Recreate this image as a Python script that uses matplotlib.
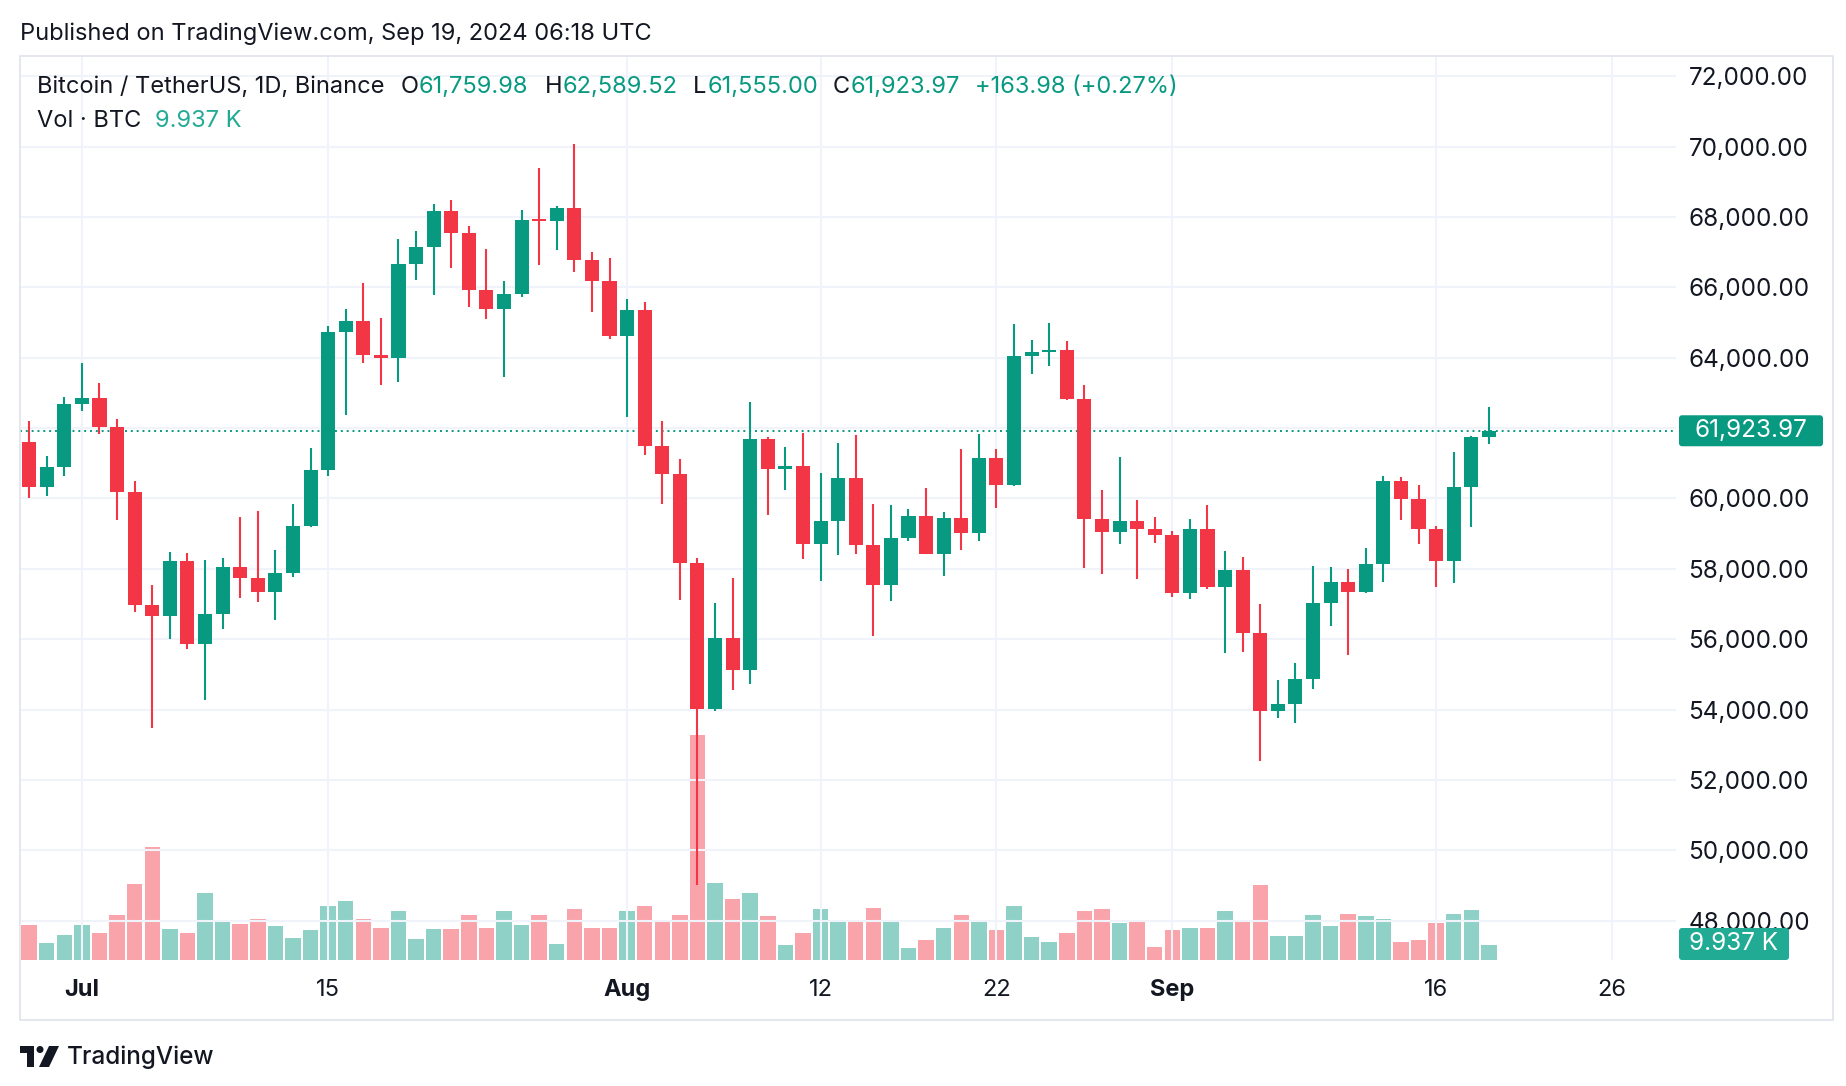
import numpy as np
import pandas as pd
import matplotlib
matplotlib.use("Agg")
import matplotlib.pyplot as plt
import matplotlib.dates as mdates
from matplotlib.patches import Rectangle, Circle, Polygon, FancyBboxPatch

# BTCUSDT daily candles, Binance, 28 Jun - 19 Sep 2024
dates = pd.date_range("2024-06-28", "2024-09-19", freq="D")
opens = [61612.0, 60320.0, 60887.1,
         62678.0, 62852.0, 62029.2, 60173.9, 56977.7, 56662.4, 58232.0, 55857.8, 56714.6, 58050.0,
         57725.9, 57339.9, 57889.1, 59204.0, 60797.9, 64724.1, 65044.0, 64088.0, 63987.9, 66660.0,
         67140.0, 68165.3, 67532.0, 65936.0, 65376.0, 65800.0, 67908.0, 67896.5, 68249.9, 66784.7, 66188.0,
         64628.0, 65354.0, 61498.3, 60698.0, 58161.0, 54018.8, 56022.0, 55133.8, 61686.0, 60838.0,
         60923.5, 58712.6, 59346.6, 60587.2, 58683.4, 57541.1, 58874.6, 59492.0, 58427.4, 59438.5,
         59013.8, 61156.0, 60375.8, 64037.2, 64157.0, 64220.0, 62834.0, 59415.0, 59034.9, 59359.0, 59124.0,
         58974.0, 57301.8, 59132.1, 57487.7, 57970.9, 56180.0, 53963.0, 54160.9, 54870.0, 57042.0,
         57636.0, 57338.0, 58132.3, 60498.0, 59993.0, 59132.0, 58214.0, 60314.0, 61759.98]
highs = [62190, 61197, 62892,
         63862, 63289, 62272, 60498, 57546, 58475, 58450, 58237, 58296, 59470,
         59650, 58527, 59850, 61421, 64900, 65389, 66129, 65133, 67386, 67598,
         68367, 68475, 67751, 67102, 66175, 68200, 69400, 68318, 70080, 67000, 66849,
         65660, 65596, 62198, 61118, 58306, 57041, 57736, 62745, 61744, 61471,
         61858, 60711, 61578, 61800, 59849, 59818, 59700, 60285, 59618, 61400,
         61821, 61400, 64955, 64494, 65000, 64481, 63212, 60235, 61167, 59944, 59462,
         59077, 59426, 59810, 58519, 58327, 56995, 54850, 55318, 58088, 58044,
         57982, 58588, 60625, 60610, 60396, 59211, 61320, 61786, 62589.52]
lows = [60000, 60068, 60632,
        62497, 61820, 59386, 56771, 53486, 56018, 55724, 54260, 56289, 57158,
        57050, 56542, 57757, 59194, 60632, 62373, 63854, 63238, 63301, 66222,
        65777, 66560, 65441, 65111, 63457, 65723, 66650, 67067, 66428, 65303, 64530,
        62302, 61230, 59850, 57123, 49000, 53963, 54559, 54730, 59535, 60242,
        58287, 57642, 58393, 58433, 56079, 57099, 58785, 58409, 57787, 58548,
        58783, 59725, 60342, 63531, 63773, 62800, 58034, 57860, 58713, 57701, 58744,
        57201, 57128, 57415, 55606, 55644, 52550, 53746, 53629, 54592, 56386,
        55545, 57324, 57633, 59400, 58691, 57493, 57610, 59175, 61555]
closes = [60320.0, 60887.1, 62678.0,
          62852.0, 62029.2, 60173.9, 56977.7, 56662.4, 58232.0, 55857.8, 56714.6, 58050.0, 57725.9,
          57339.9, 57889.1, 59204.0, 60797.9, 64724.1, 65044.0, 64088.0, 63987.9, 66660.0, 67140.0,
          68165.3, 67532.0, 65936.0, 65376.0, 65800.0, 67908.0, 67896.5, 68249.9, 66784.7, 66188.0, 64628.0,
          65354.0, 61498.3, 60698.0, 58161.0, 54018.8, 56022.0, 55133.8, 61686.0, 60838.0, 60923.5,
          58712.6, 59346.6, 60587.2, 58683.4, 57541.1, 58874.6, 59492.0, 58427.4, 59438.5, 59013.8,
          61156.0, 60375.8, 64037.2, 64157.0, 64220.0, 62834.0, 59415.0, 59034.9, 59359.0, 59124.0, 58974.0,
          57301.8, 59132.1, 57487.7, 57970.9, 56180.0, 53963.0, 54160.9, 54870.0, 57042.0, 57636.0,
          57338.0, 58132.3, 60498.0, 59993.0, 59132.0, 58214.0, 60314.0, 61760.0, 61923.97]
# volume in thousand BTC
volumes = [23.5, 11.3, 16.7,
           23.5, 18.1, 30.9, 51.9, 77.0, 20.8, 18.1, 45.8, 26.2, 24.2,
           28.2, 22.8, 14.7, 20.1, 37.0, 40.4, 28.2, 21.5, 33.6, 14.0,
           20.8, 20.8, 30.3, 22.1, 33.6, 23.5, 30.3, 10.6, 35.0, 22.1, 21.5,
           33.6, 37.0, 26.9, 30.3, 153.1, 52.6, 41.8, 45.8, 29.6, 9.9,
           18.7, 35.0, 26.9, 26.9, 35.7, 26.2, 7.9, 13.3, 22.1, 30.3,
           26.9, 20.1, 36.4, 15.4, 12.0, 18.7, 33.6, 35.0, 25.5, 27.5, 8.6,
           20.1, 22.1, 22.1, 33.6, 26.9, 51.3, 16.0, 16.0, 30.9, 22.8,
           31.6, 29.6, 28.2, 12.0, 13.3, 25.5, 31.6, 34.3, 9.937]

change_text = "+163.98 (+0.27%)"
price_ticks = list(range(48000, 72001, 2000))
date_ticks = ["2024-07-01", "2024-07-15", "2024-08-01", "2024-08-12",
              "2024-08-22", "2024-09-01", "2024-09-16", "2024-09-26"]
date_labels = ["Jul", "15", "Aug", "12", "22", "Sep", "16", "26"]
month_labels = ["Jul", "Aug", "Sep"]

UP = "#089981"
DOWN = "#F23645"
TXT = "#131722"
GRID = "#F0F3FA"
VOLBOX = "#22AB94"
FONT = ["Inter", "DejaVu Sans"]

plt.rcParams["font.family"] = FONT

W, H = 1846, 1086
fig = plt.figure(figsize=(W / 100, H / 100), dpi=100)

# pane in pixels: left, top, right, bottom
pl, pt, pr, pb = 20, 56, 1676, 960
rect = [pl / W, 1 - pb / H, (pr - pl) / W, (pb - pt) / H]

x = mdates.date2num(dates)
x0 = mdates.date2num(pd.Timestamp("2024-07-01"))
o = np.array(opens); h = np.array(highs); l = np.array(lows); c = np.array(closes)
up = c >= o
cols = np.where(up, UP, DOWN)

# volume pane underneath
axv = fig.add_axes(rect, zorder=1)
axv.bar(x, volumes, width=0.88, color=cols, alpha=0.45, linewidth=0)
axv.set_ylim(0, 615)
axv.set_xlim(x0 - 3.52, x0 + 90.64)
axv.axis("off")

# price pane
ax = fig.add_axes(rect, zorder=2, sharex=axv)
ax.patch.set_alpha(0)
ax.set_ylim(46880, 72577)
for s in ax.spines.values():
    s.set_visible(False)

ax.vlines(x, l, h, color=cols, linewidth=1.5, zorder=3)
body = np.maximum(np.abs(c - o), 60)
ax.bar(x, body, bottom=np.minimum(o, c), width=0.8, color=cols, linewidth=0, zorder=4)

ax.axhline(closes[-1], color=UP, linestyle=(0, (1, 2)), linewidth=1.4, zorder=2)

# the label under the last-price tag is hidden, as on TradingView
ax.set_yticks(price_ticks)
ax.set_yticklabels(["" if abs(p - closes[-1]) < 700 else f"{p:,.2f}" for p in price_ticks])
ax.yaxis.tick_right()
ax.tick_params(axis="y", length=0, pad=9, labelsize=17.5, labelcolor=TXT)

ax.set_xticks(mdates.date2num(pd.to_datetime(date_ticks)))
ax.set_xticklabels(date_labels)
ax.tick_params(axis="x", length=0, pad=14, labelsize=17, labelcolor=TXT)
for t in ax.get_xticklabels():
    if t.get_text() in month_labels:
        t.set_fontweight("bold")

ax.grid(True, color=GRID, linewidth=1.5, zorder=0)
ax.set_axisbelow(True)

# overlay in pixel coordinates for texts and labels
ov = fig.add_axes([0, 0, 1, 1], zorder=10)
ov.set_xlim(0, W)
ov.set_ylim(H, 0)
ov.axis("off")
ov.patch.set_alpha(0)

ov.add_patch(Rectangle((20, 56), 1813, 964, fill=False, edgecolor="#E0E3EB", linewidth=1.2))

ov.text(20, 34, "Published on TradingView.com, Sep 19, 2024 06:18 UTC",
        fontsize=17, color=TXT, va="center", ha="left")

legend_items = [
    (37, "Bitcoin / TetherUS, 1D, Binance", TXT),
    (401, "O", TXT), (419, f"{opens[-1]:,.2f}", UP),
    (545, "H", TXT), (563, f"{highs[-1]:,.2f}", UP),
    (693, "L", TXT), (708, f"{lows[-1]:,.2f}", UP),
    (833, "C", TXT), (851, f"{closes[-1]:,.2f}", UP),
    (975, change_text, UP),
]
for xp, s, col in legend_items:
    ov.text(xp, 87, s, fontsize=17, color=col, va="center", ha="left")
ov.text(37, 121, "Vol · BTC", fontsize=17, color=TXT, va="center", ha="left")
ov.text(155, 121, f"{volumes[-1]:.3f} K", fontsize=17, color=VOLBOX, va="center", ha="left")

# last price label
fig.canvas.draw()
ypix = H - ax.transData.transform((x[-1], closes[-1]))[1]
ov.add_patch(FancyBboxPatch((1679, ypix - 15.5), 144, 31, boxstyle="round,pad=0,rounding_size=3",
                            color=UP, linewidth=0))
ov.text(1751, ypix, f"{closes[-1]:,.2f}", fontsize=17.5, color="white", va="center", ha="center")

# volume label
ybase = H - axv.transData.transform((x[-1], 0))[1]
ov.add_patch(FancyBboxPatch((1679, ybase - 32), 110, 32, boxstyle="round,pad=0,rounding_size=3",
                            color=VOLBOX, linewidth=0))
ov.text(1734, ybase - 16, f"{volumes[-1]:.3f} K", fontsize=17.5, color="white", va="center", ha="center")

# TradingView logo
lx, ly = 20, 1046
ov.add_patch(Rectangle((lx, ly), 14, 7, color=TXT, linewidth=0))
ov.add_patch(Rectangle((lx + 7, ly), 7, 21, color=TXT, linewidth=0))
ov.add_patch(Circle((lx + 20, ly + 3.5), 3.5, color=TXT, linewidth=0))
ov.add_patch(Polygon([(lx + 29, ly), (lx + 39, ly), (lx + 29, ly + 21), (lx + 19, ly + 21)],
                     closed=True, color=TXT, linewidth=0))
ov.text(67, 1057, "TradingView", fontsize=17.5, color=TXT, va="center", ha="left", fontweight="medium")

fig.savefig("out.png", dpi=100, facecolor="white")
